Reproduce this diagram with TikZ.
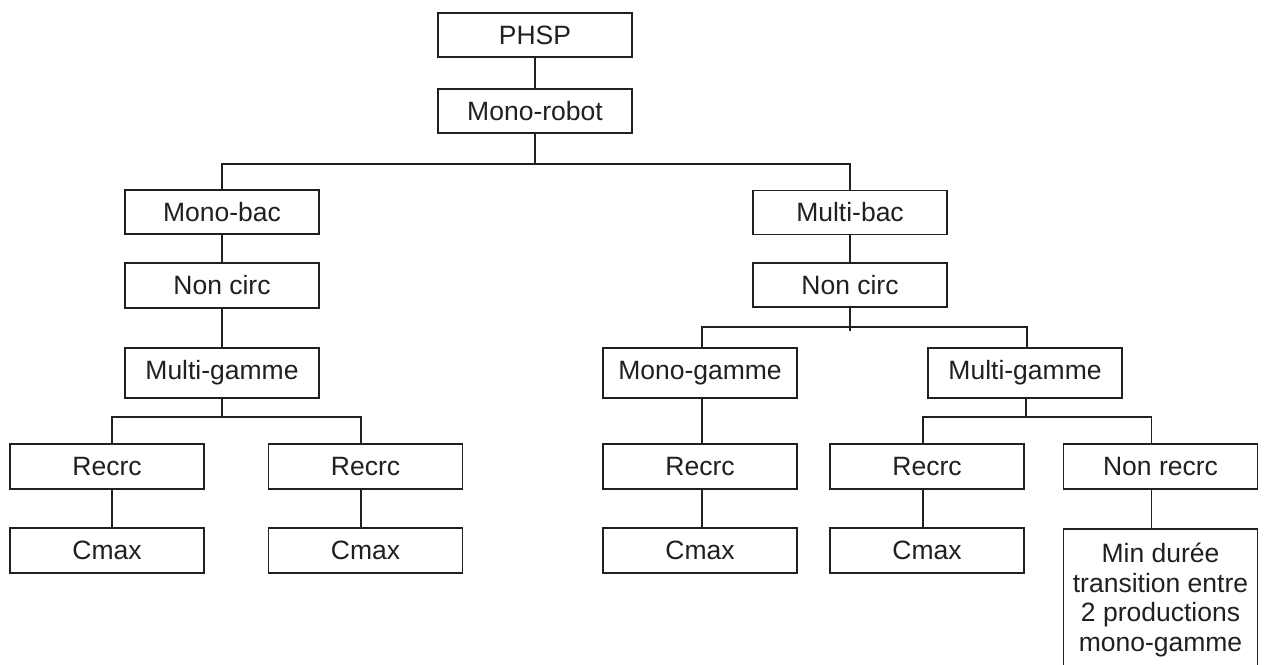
\documentclass[tikz,border=0pt]{standalone}
\usepackage{fontspec}
\setmainfont{Liberation Sans}
\definecolor{ink}{HTML}{231F20}
\begin{document}
\begin{tikzpicture}[x=1pt,y=-1pt,
  box/.style={draw=ink,line width=1.8pt,minimum width=194pt,minimum height=44pt,inner sep=0pt,align=center,text=ink,font=\fontsize{26.5}{29.5}\selectfont},
  tall/.style={minimum height=50pt},
  link/.style={draw=ink,line width=1.8pt}]
\clip (0,0) rectangle (1266,664);
\fill[white] (0,0) rectangle (1266,664);
% nodes
\node[box] (phsp) at (535,35) {PHSP};
\node[box] (robot) at (535,111) {Mono-robot};
\node[box] (monobac) at (222,212) {Mono-bac};
\node[box,minimum height=45pt] (ncL) at (222,285.5) {Non circ};
\node[box,tall] (mgL) at (222,373) {Multi-gamme};
\node[box,minimum height=45pt] (r1) at (107,466.5) {Recrc};
\node[box,minimum height=45pt] (c1) at (107,550.5) {Cmax};
\node[box,minimum height=45pt] (r2) at (365.5,466.5) {Recrc};
\node[box,minimum height=45pt] (c2) at (365.5,550.5) {Cmax};
\node[box] (multibac) at (850,212.5) {Multi-bac};
\node[box] (ncR) at (850,285) {Non circ};
\node[box,tall] (mono) at (700,373) {Mono-gamme};
\node[box,tall] (mgR) at (1025,373) {Multi-gamme};
\node[box,minimum height=45pt] (r3) at (700,466.5) {Recrc};
\node[box,minimum height=45pt] (c3) at (700,550.5) {Cmax};
\node[box,minimum height=45pt] (r4) at (927,466.5) {Recrc};
\node[box,minimum height=45pt] (c4) at (927,550.5) {Cmax};
\node[box,minimum height=45pt] (nr) at (1160.5,466.5) {Non recrc};
\node[box,anchor=north,minimum height=142pt] (minb) at (1160.5,528) {Min durée\\transition entre\\2 productions\\mono-gamme};
% bus coordinates
\coordinate (b1) at (535,164);
\coordinate (b2) at (222,417);
\coordinate (b3) at (850,327);
\coordinate (b4) at (1026,417);
% connectors
\draw[link] (phsp) -- (robot);
\draw[link] (robot.south) -- (b1);
\draw[link] (monobac.north) -- (monobac.north |- b1) -- (multibac.north |- b1) -- (multibac.north);
\draw[link] (monobac) -- (ncL);
\draw[link] (ncL) -- (mgL);
\draw[link] (mgL.south) -- (b2);
\draw[link] ([xshift=5pt]r1.north) -- ([xshift=5pt]r1.north |- b2) -- ([xshift=-4.5pt]r2.north |- b2) -- ([xshift=-4.5pt]r2.north);
\draw[link] ([xshift=5pt]r1.south) -- ([xshift=5pt]c1.north);
\draw[link] ([xshift=-4.5pt]r2.south) -- ([xshift=-4.5pt]c2.north);
\draw[link] (multibac) -- (ncR);
\draw[link] (ncR.south) -- ++(0,23);
\draw[link] ([xshift=2pt]mono.north) -- ([xshift=2pt]mono.north |- b3) -- ([xshift=2pt]mgR.north |- b3) -- ([xshift=2pt]mgR.north);
\draw[link] ([xshift=2pt]mono.south) -- ([xshift=2pt]r3.north);
\draw[link] ([xshift=1pt]mgR.south) -- (b4);
\draw[link] ([xshift=-4pt]r4.north) -- ([xshift=-4pt]r4.north |- b4) -- ([xshift=-9pt]nr.north |- b4) -- ([xshift=-9pt]nr.north);
\draw[link] ([xshift=2pt]r3.south) -- ([xshift=2pt]c3.north);
\draw[link] ([xshift=-4pt]r4.south) -- ([xshift=-4pt]c4.north);
\draw[link] ([xshift=-9pt]nr.south) -- ([xshift=-9pt]minb.north);
\end{tikzpicture}
\end{document}
